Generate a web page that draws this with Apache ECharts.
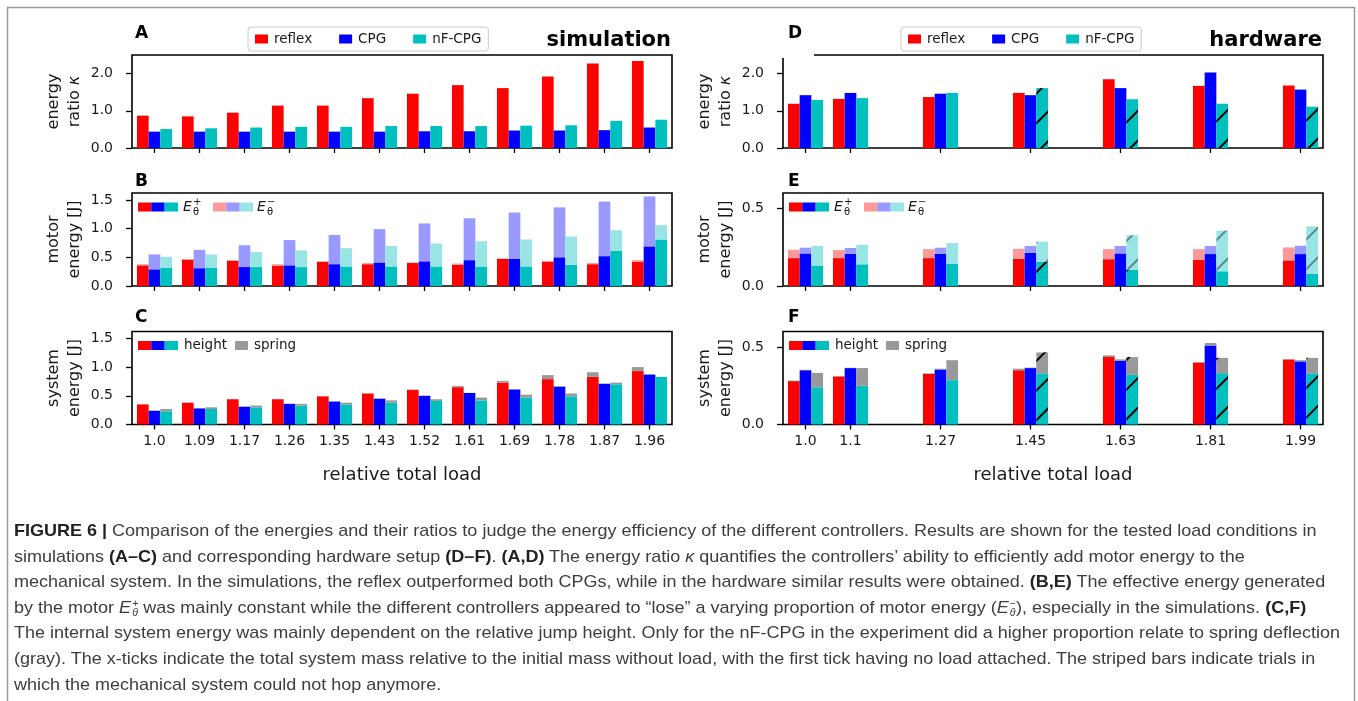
<!DOCTYPE html>
<html>
<head>
<meta charset="utf-8">
<script src="https://cdn.jsdelivr.net/npm/echarts@6/dist/echarts.min.js"></script>
<style>
  html, body { margin: 0; padding: 0; background: #fff; }
  #chart { position: absolute; left: 0; top: 0; width: 1358px; height: 701px; }
  #caption { position: absolute; left: 14px; top: 518px; font-family: 'Liberation Sans', Arial, sans-serif; font-size: 17px; color: #3d3d3d; }
  #caption div { white-space: nowrap; width: max-content; height: 25.6px; line-height: 25.6px; transform-origin: left center; }
  #caption b { color: #222; }
  .ss { display: inline-block; vertical-align: middle; font-size: 10px; line-height: 9px; margin-left: 1px; }
  .ss span { display: block; }
</style>
</head>
<body>
<div id="chart"></div>
<div id="caption">
  <div><b>FIGURE 6 |</b> Comparison of the energies and their ratios to judge the energy efficiency of the different controllers. Results are shown for the tested load conditions in</div>
  <div>simulations <b>(A–C)</b> and corresponding hardware setup <b>(D–F)</b>. <b>(A,D)</b> The energy ratio <i>κ</i> quantifies the controllers’ ability to efficiently add motor energy to the</div>
  <div>mechanical system. In the simulations, the reflex outperformed both CPGs, while in the hardware similar results were obtained. <b>(B,E)</b> The effective energy generated</div>
  <div>by the motor <i>E</i><span class="ss"><span>+</span><span><i>θ</i></span></span> was mainly constant while the different controllers appeared to “lose” a varying proportion of motor energy (<i>E</i><span class="ss"><span>−</span><span><i>θ</i></span></span>), especially in the simulations. <b>(C,F)</b></div>
  <div>The internal system energy was mainly dependent on the relative jump height. Only for the nF-CPG in the experiment did a higher proportion relate to spring deflection</div>
  <div>(gray). The x-ticks indicate the total system mass relative to the initial mass without load, with the first tick having no load attached. The striped bars indicate trials in</div>
  <div>which the mechanical system could not hop anymore.</div>
</div>
<script>
// ---- data: simulation (12 loads) ----
const simLoads = ['1.0', '1.09', '1.17', '1.26', '1.35', '1.43', '1.52', '1.61', '1.69', '1.78', '1.87', '1.96'];

// A: energy ratio kappa
const simRatioReflex = [0.87, 0.85, 0.95, 1.14, 1.14, 1.34, 1.46, 1.69, 1.61, 1.92, 2.27, 2.34];
const simRatioCPG    = [0.44, 0.44, 0.44, 0.44, 0.44, 0.44, 0.45, 0.45, 0.47, 0.47, 0.48, 0.55];
const simRatioNF     = [0.51, 0.53, 0.55, 0.57, 0.57, 0.59, 0.59, 0.59, 0.60, 0.61, 0.73, 0.76];

// B: motor energy, E+ (effective) and E- (lost)
const simPlusReflex  = [0.36, 0.46, 0.44, 0.35, 0.42, 0.38, 0.40, 0.37, 0.47, 0.42, 0.38, 0.42];
const simMinusReflex = [0.02, 0.01, 0.01, 0.03, 0.01, 0.02, 0.01, 0.02, 0.01, 0.02, 0.02, 0.03];
const simPlusCPG     = [0.29, 0.31, 0.33, 0.36, 0.38, 0.41, 0.43, 0.45, 0.47, 0.50, 0.52, 0.69];
const simMinusCPG    = [0.26, 0.32, 0.38, 0.44, 0.51, 0.58, 0.66, 0.73, 0.81, 0.87, 0.95, 0.87];
const simPlusNF      = [0.32, 0.32, 0.33, 0.33, 0.34, 0.34, 0.34, 0.34, 0.34, 0.37, 0.61, 0.81];
const simMinusNF     = [0.19, 0.23, 0.26, 0.29, 0.32, 0.36, 0.40, 0.44, 0.47, 0.49, 0.36, 0.25];

// C: system energy, height and spring
const simHeightReflex = [0.35, 0.38, 0.44, 0.44, 0.49, 0.54, 0.60, 0.65, 0.73, 0.79, 0.83, 0.93];
const simSpringReflex = [0.00, 0.00, 0.00, 0.00, 0.00, 0.00, 0.01, 0.02, 0.03, 0.07, 0.08, 0.07];
const simHeightCPG    = [0.24, 0.28, 0.31, 0.36, 0.40, 0.45, 0.50, 0.55, 0.61, 0.66, 0.71, 0.87];
const simSpringCPG    = [0.00, 0.00, 0.00, 0.00, 0.00, 0.00, 0.00, 0.00, 0.00, 0.00, 0.00, 0.00];
const simHeightNF     = [0.23, 0.27, 0.30, 0.33, 0.35, 0.38, 0.41, 0.42, 0.47, 0.49, 0.70, 0.83];
const simSpringNF     = [0.04, 0.03, 0.03, 0.03, 0.03, 0.04, 0.03, 0.05, 0.05, 0.05, 0.03, 0.00];

// ---- data: hardware (7 loads on a 12-slot axis) ----
const hwLoads = ['1.0', '1.1', '1.27', '1.45', '1.63', '1.81', '1.99'];
const hwSlots = [0, 1, 3, 5, 7, 9, 11];
const hwStriped = [false, false, false, true, true, true, true]; // nF-CPG could not hop anymore

// D: energy ratio kappa
const hwRatioReflex = [1.19, 1.32, 1.37, 1.48, 1.85, 1.67, 1.68];
const hwRatioCPG    = [1.42, 1.48, 1.46, 1.42, 1.61, 2.03, 1.57];
const hwRatioNF     = [1.29, 1.34, 1.48, 1.61, 1.31, 1.19, 1.11];

// E: motor energy
const hwPlusReflex  = [0.180, 0.180, 0.180, 0.175, 0.173, 0.169, 0.165];
const hwMinusReflex = [0.054, 0.052, 0.058, 0.065, 0.065, 0.069, 0.084];
const hwPlusCPG     = [0.210, 0.208, 0.208, 0.214, 0.210, 0.206, 0.206];
const hwMinusCPG    = [0.037, 0.037, 0.039, 0.044, 0.048, 0.052, 0.054];
const hwPlusNF      = [0.132, 0.140, 0.143, 0.158, 0.104, 0.095, 0.078];
const hwMinusNF     = [0.126, 0.126, 0.134, 0.128, 0.223, 0.262, 0.307];

// F: system energy
const hwHeightReflex = [0.280, 0.310, 0.327, 0.350, 0.435, 0.400, 0.420];
const hwSpringReflex = [0.003, 0.002, 0.003, 0.010, 0.011, 0.000, 0.002];
const hwHeightCPG    = [0.350, 0.364, 0.355, 0.364, 0.410, 0.510, 0.407];
const hwSpringCPG    = [0.003, 0.002, 0.005, 0.003, 0.010, 0.016, 0.008];
const hwHeightNF     = [0.240, 0.250, 0.286, 0.330, 0.320, 0.331, 0.330];
const hwSpringNF     = [0.093, 0.114, 0.129, 0.135, 0.115, 0.099, 0.100];

// y tick labels
const ratioTicks = [0, 1, 2];
const simEnergyTicks = [0, 0.5, 1, 1.5];
const hwEnergyTicks = [0, 0.5];

// ---- styling ----
const RED = '#ff0000', BLUE = '#0000ff', CYAN = '#00bfbf';
const LRED = '#ff9999', LBLUE = '#9999ff', LCYAN = '#99e5e5';
const GRAY = '#999999';
const FONT = 'DejaVu Sans';
const INK = '#1a1a1a';

const colLeft = [132, 783];
const colWidth = 540;
const rowTop = [55, 193, 331.5];
const rowHeight = 93;

const hatch = { color: '#000', dashArrayX: [1, 0], dashArrayY: [2, 19], symbolSize: 1, rotation: -Math.PI / 4 };
const hatchLight = Object.assign({}, hatch, { color: 'rgba(0,0,0,0.4)' });

// hardware category axis: 12 slots, only some of them carry a load
const hwAxis = new Array(12).fill('');
hwSlots.forEach((s, i) => { hwAxis[s] = hwLoads[i]; });

function toSlots(vals, decal) {
  const out = new Array(12).fill('-');
  hwSlots.forEach((s, i) => {
    out[s] = decal && hwStriped[i] ? { value: vals[i], itemStyle: { decal } } : vals[i];
  });
  return out;
}

function bar(name, gi, data, color, stack) {
  return {
    type: 'bar', name, xAxisIndex: gi, yAxisIndex: gi, data, stack,
    barWidth: '26%', barGap: '0%', itemStyle: { color },
    silent: true, animation: false
  };
}

const grids = [];
for (let c = 0; c < 2; c++) {
  for (let r = 0; r < 3; r++) {
    grids.push({
      left: colLeft[c], top: rowTop[r], width: colWidth, height: rowHeight,
      show: true, borderColor: '#000', borderWidth: 1.6, backgroundColor: 'transparent',
      containLabel: false, outerBoundsMode: 'none'
    });
  }
}

function xAxis(gi, data, showLabels, interval) {
  return {
    type: 'category', gridIndex: gi, data,
    axisLine: { show: false },
    axisTick: { show: true, alignWithLabel: true, length: 5, interval, lineStyle: { color: '#000', width: 1.3 } },
    axisLabel: { show: showLabels, interval, color: INK, fontSize: 14, fontFamily: FONT, margin: 10 },
    splitLine: { show: false },
    name: showLabels ? 'relative total load' : '',
    nameLocation: 'middle', nameGap: 42,
    nameTextStyle: { fontSize: 18, color: INK, fontFamily: FONT }
  };
}

function yAxis(gi, max, ticks, name) {
  return {
    type: 'value', gridIndex: gi, min: 0, max,
    axisLine: { show: false },
    splitLine: { show: false },
    axisTick: { show: true, length: 6, customValues: ticks, lineStyle: { color: '#000', width: 1.3 } },
    axisLabel: { customValues: ticks, formatter: v => v.toFixed(1), color: INK, fontSize: 14, fontFamily: FONT, margin: 19 },
    name, nameLocation: 'middle', nameRotate: 90, nameGap: 47,
    nameTextStyle: { fontSize: 16, lineHeight: 21, color: INK, fontFamily: FONT, rich: { i: { fontStyle: 'italic', fontSize: 16, fontFamily: FONT, color: INK } } }
  };
}

const hwTickShown = (i, v) => v !== '';

const xAxes = [
  xAxis(0, simLoads, false, 0), xAxis(1, simLoads, false, 0), xAxis(2, simLoads, true, 0),
  xAxis(3, hwAxis, false, hwTickShown), xAxis(4, hwAxis, false, hwTickShown), xAxis(5, hwAxis, true, hwTickShown)
];
const yAxes = [
  yAxis(0, 2.5, ratioTicks, 'energy\nratio {i|κ}'),
  yAxis(1, 1.62, simEnergyTicks, 'motor\nenergy [J]'),
  yAxis(2, 1.62, simEnergyTicks, 'system\nenergy [J]'),
  yAxis(3, 2.5, ratioTicks, 'energy\nratio {i|κ}'),
  yAxis(4, 0.6, hwEnergyTicks, 'motor\nenergy [J]'),
  yAxis(5, 0.6, hwEnergyTicks, 'system\nenergy [J]')
];

const series = [
  // A
  bar('reflex', 0, simRatioReflex, RED),
  bar('CPG', 0, simRatioCPG, BLUE),
  bar('nF-CPG', 0, simRatioNF, CYAN),
  // B
  bar('B reflex E+', 1, simPlusReflex, RED, 'B-r'),
  bar('B reflex E-', 1, simMinusReflex, LRED, 'B-r'),
  bar('B CPG E+', 1, simPlusCPG, BLUE, 'B-c'),
  bar('B CPG E-', 1, simMinusCPG, LBLUE, 'B-c'),
  bar('B nF E+', 1, simPlusNF, CYAN, 'B-n'),
  bar('B nF E-', 1, simMinusNF, LCYAN, 'B-n'),
  // C
  bar('C reflex height', 2, simHeightReflex, RED, 'C-r'),
  bar('C reflex spring', 2, simSpringReflex, GRAY, 'C-r'),
  bar('C CPG height', 2, simHeightCPG, BLUE, 'C-c'),
  bar('C CPG spring', 2, simSpringCPG, GRAY, 'C-c'),
  bar('C nF height', 2, simHeightNF, CYAN, 'C-n'),
  bar('C nF spring', 2, simSpringNF, GRAY, 'C-n'),
  // D
  bar('reflex', 3, toSlots(hwRatioReflex), RED),
  bar('CPG', 3, toSlots(hwRatioCPG), BLUE),
  bar('nF-CPG', 3, toSlots(hwRatioNF, hatch), CYAN),
  // E
  bar('E reflex E+', 4, toSlots(hwPlusReflex), RED, 'E-r'),
  bar('E reflex E-', 4, toSlots(hwMinusReflex), LRED, 'E-r'),
  bar('E CPG E+', 4, toSlots(hwPlusCPG), BLUE, 'E-c'),
  bar('E CPG E-', 4, toSlots(hwMinusCPG), LBLUE, 'E-c'),
  bar('E nF E+', 4, toSlots(hwPlusNF, hatch), CYAN, 'E-n'),
  bar('E nF E-', 4, toSlots(hwMinusNF, hatchLight), LCYAN, 'E-n'),
  // F
  bar('F reflex height', 5, toSlots(hwHeightReflex), RED, 'F-r'),
  bar('F reflex spring', 5, toSlots(hwSpringReflex), GRAY, 'F-r'),
  bar('F CPG height', 5, toSlots(hwHeightCPG), BLUE, 'F-c'),
  bar('F CPG spring', 5, toSlots(hwSpringCPG), GRAY, 'F-c'),
  bar('F nF height', 5, toSlots(hwHeightNF, hatch), CYAN, 'F-n'),
  bar('F nF spring', 5, toSlots(hwSpringNF, hatch), GRAY, 'F-n')
];

function legendBox(left) {
  return {
    left, top: 27, orient: 'horizontal',
    data: ['reflex', 'CPG', 'nF-CPG'],
    icon: 'rect', itemWidth: 13, itemHeight: 9, itemGap: 27,
    padding: [5, 7], backgroundColor: '#fff', borderColor: '#cccccc', borderWidth: 1, borderRadius: 3,
    textStyle: { fontSize: 13.5, fontFamily: FONT, color: INK, padding: [0, 0, 0, 1] },
    selectedMode: false
  };
}

// ---- annotations: frame, panel letters, titles, custom legends ----
const g = [];
g.push({ type: 'rect', z: 100, shape: { x: 7.5, y: 7.5, width: 1347, height: 720 }, style: { fill: 'none', stroke: '#9a9a9a', lineWidth: 1.5 } });

function txt(text, x, y, opts) {
  g.push({ type: 'text', z: 101, x, y, style: Object.assign({ text, fill: INK, fontFamily: FONT, fontSize: 14, align: 'left', verticalAlign: 'middle' }, opts || {}) });
}
function box(x, y, w, h, fill) {
  g.push({ type: 'rect', z: 101, shape: { x, y, width: w, height: h }, style: { fill } });
}

// white patch behind "D" hides the start of its top spine, as in the original
box(782, 50, 32, 8, '#fff');

const letters = [['A', 'B', 'C'], ['D', 'E', 'F']];
const letterX = [135, 788];
const letterY = [34, 182, 318];
for (let c = 0; c < 2; c++) for (let r = 0; r < 3; r++) {
  txt(letters[c][r], letterX[c], letterY[r], { fontSize: 17, fontWeight: 'bold', fill: '#000' });
}
txt('simulation', colLeft[0] + colWidth - 1, 41, { fontSize: 21, fontWeight: 'bold', align: 'right', fill: '#000' });
txt('hardware', colLeft[1] + colWidth - 1, 41, { fontSize: 21, fontWeight: 'bold', align: 'right', fill: '#000' });

function triple(x, yc, colors) {
  colors.forEach((col, k) => box(x + k * 13.3, yc - 4.5, 13.4, 9, col));
}
function eTheta(x, yc, sign) {
  txt('E', x, yc, { fontSize: 14, fontStyle: 'italic' });
  txt(sign, x + 10, yc - 5, { fontSize: 10 });
  txt('θ', x + 10, yc + 5, { fontSize: 10 });
}
for (let c = 0; c < 2; c++) {
  const gx = colLeft[c];
  const ym = rowTop[1] + 14;
  triple(gx + 6, ym, [RED, BLUE, CYAN]);
  eTheta(gx + 51, ym, '+');
  triple(gx + 81, ym, [LRED, LBLUE, LCYAN]);
  eTheta(gx + 125, ym, '−');

  const ys = rowTop[2] + 14;
  triple(gx + 6, ys, [RED, BLUE, CYAN]);
  txt('height', gx + 52, ys, { fontSize: 13.5 });
  box(gx + 103, ys - 4.5, 13, 9, GRAY);
  txt('spring', gx + 122, ys, { fontSize: 13.5 });
}

const chart = echarts.init(document.getElementById('chart'));
chart.setOption({
  animation: false,
  backgroundColor: '#fff',
  grid: grids,
  xAxis: xAxes,
  yAxis: yAxes,
  legend: [legendBox(248), legendBox(901)],
  series,
  graphic: { elements: g }
});

// caption: scale all lines so the longest one spans the reference width
const capLines = document.querySelectorAll('#caption div');
const fit = 1326 / capLines[4].offsetWidth;
capLines.forEach(l => { l.style.transform = 'scaleX(' + fit + ')'; });
</script>
</body>
</html>
